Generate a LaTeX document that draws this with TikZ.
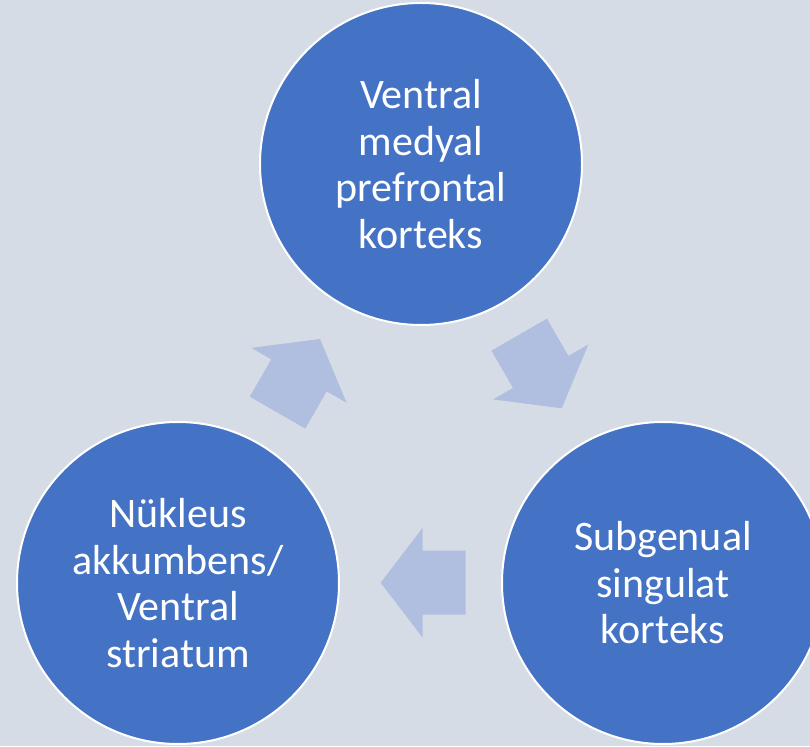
\documentclass[tikz,border=0pt]{standalone}
\usepackage{fontspec}
\setmainfont{Carlito}
\definecolor{bgpanel}{RGB}{214,220,229}
\definecolor{nodeblue}{RGB}{68,114,196}
\definecolor{flowtint}{RGB}{176,190,224}
\tikzset{
  stage/.style={circle, fill=nodeblue, draw=white, line width=2pt,
    minimum size=322pt, inner sep=0pt, text=white, align=center,
    font=\fontsize{42}{46.5}\selectfont},
  flowarrow/.style={fill=flowtint, draw=none},
}
% block arrow with its tip at the local origin, pointing along +x
\newcommand{\cyclearrow}[2]{%
  \fill[flowarrow, shift={#1}, rotate=#2]
    (0,0) -- (-42,55) -- (-42,32) -- (-85,32) -- (-85,-32)
    -- (-42,-32) -- (-42,-55) -- cycle;}
\begin{document}
\begin{tikzpicture}[x=1pt, y=1pt]
  \fill[bgpanel] (0,0) rectangle (810,746);
  \useasboundingbox (0,0) rectangle (810,746);

  \node[stage] (vmpfc) at (421,582) {Ventral\\medyal\\prefrontal\\korteks};
  \node[stage] (sgc)   at (663,163) {Subgenual\\singulat\\korteks};
  \node[stage] (nacc)  at (178,163) {Nükleus\\akkumbens/\\Ventral\\striatum};

  \cyclearrow{(320,407)}{60}
  \cyclearrow{(561.7,337.7)}{-60}
  \cyclearrow{(380.7,163.3)}{180}
\end{tikzpicture}
\end{document}
